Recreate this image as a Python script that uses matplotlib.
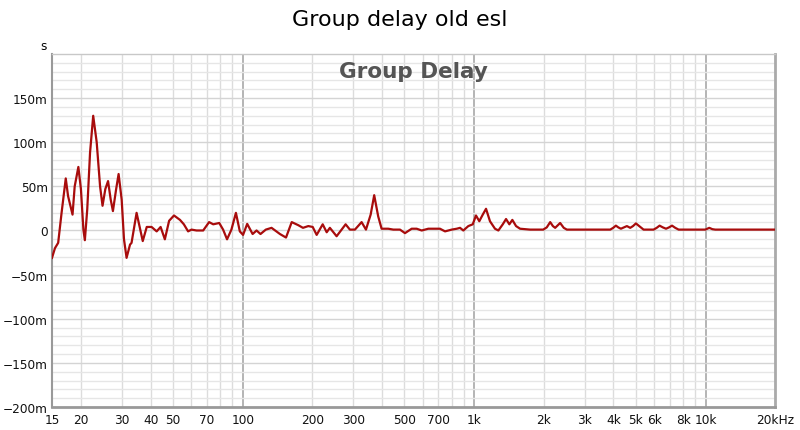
import numpy as np
import matplotlib.pyplot as plt
from matplotlib.ticker import FixedLocator, NullFormatter

# frequency (Hz) and group delay (ms)
freq = [15.0, 15.45, 15.95, 16.5, 17.2, 17.6, 18.4, 18.8, 19.5, 20.0, 20.5, 20.8,
        21.3, 21.9, 22.6, 23.4, 24.2, 24.8, 25.5, 26.2, 26.9, 27.5, 28.4, 29.1,
        30.0, 30.7, 31.5, 32.6, 33.1, 34.8, 37.0, 38.5, 40.4, 42.5, 44.2, 46.1,
        48.1, 50.5, 53.6, 55.7, 58.1, 60.1, 63.2, 67.5, 71.6, 74.6, 79.2, 82.3,
        85.6, 89.4, 93.5, 97.2, 100.4, 104.6, 110.4, 114.8, 119.4, 125.9, 133.3,
        144.9, 153.9, 162.9, 173.9, 182.2, 192.1, 200.7, 208.8, 221.7, 230.7,
        238.1, 254.6, 267.6, 278.5, 290.6, 305.5, 326.5, 341.0, 357.3, 370.1,
        385.1, 398.4, 425.7, 447.5, 478.3, 502.7, 537.3, 564.8, 593.6, 633.9,
        677.7, 712.3, 748.8, 800.4, 841.2, 869.4, 898.2, 944.2, 986.6, 1019,
        1053, 1090, 1126, 1171, 1231, 1273, 1330, 1374, 1420, 1463, 1518, 1580,
        1745, 1989, 2060, 2132, 2190, 2240, 2300, 2354, 2440, 2517, 3875, 3990,
        4099, 4200, 4308, 4440, 4573, 4726, 4860, 5002, 5200, 5399, 5963, 6150,
        6331, 6540, 6750, 6950, 7166, 7400, 7652, 9978, 10180, 10380, 10700,
        11020, 20000]
delay = [-31, -20, -14, 20, 59, 39, 18, 50, 72, 47, 1, -11,
         24, 88, 130, 100, 50, 28, 47, 56, 35, 22, 47, 64,
         35, -10, -31, -16, -14, 20, -12, 4, 4, -1, 4, -10,
         11, 17, 12, 7, -1, 1, 0, 0, 9.5, 7, 8.5, 1,
         -10, 1, 20, -1, -5, 7.5, -4, 0, -4, 1, 3,
         -4, -8, 9.5, 6, 3, 5, 4, -5, 7, -2,
         3, -6.5, 1, 7, 1, 1, 9.5, 1, 18, 40,
         16, 2, 2, 1, 1, -3, 2, 2, 0, 2,
         2, 2, -1, 1, 2, 3, 0, 5, 7, 17,
         10.5, 18, 24.6, 10.5, 2, 0, 7, 13, 7, 12, 5, 2,
         1, 1, 3.5, 9.5, 5, 3, 6, 8.5, 3, 1, 1, 3,
         5.5, 3.5, 2, 3.5, 5, 3, 5, 8, 4.5, 1, 1, 3,
         5.5, 3.5, 2, 3.5, 5.5, 3, 1, 1, 2, 3, 1.5,
         1, 1]

xticks = [15, 20, 30, 40, 50, 70, 100, 200, 300, 500, 700, 1000, 2000, 3000,
          4000, 5000, 6000, 8000, 10000, 20000]
xlabels = ['15', '20', '30', '40', '50', '70', '100', '200', '300', '500', '700',
           '1k', '2k', '3k', '4k', '5k', '6k', '8k', '10k', '20kHz']
yticks = [-200, -150, -100, -50, 0, 50, 100, 150]
ylabels = ['\u2212200m', '\u2212150m', '\u2212100m', '\u221250m', '0', '50m', '100m', '150m']

plt.rcParams['font.family'] = ['DejaVu Sans']

fig = plt.figure(figsize=(8, 4.31), dpi=100)
ax = fig.add_axes([0.065, 0.0534, 0.904, 0.819])

# grid
minor_x = [f * m for f in (10, 100, 1000, 10000) for m in range(2, 10)]
minor_x = [v for v in minor_x if 15 <= v <= 20000]
for v in minor_x:
    ax.axvline(v, color='#dcdcdc', lw=1, zorder=0)
for v in (100, 1000, 10000):
    ax.axvline(v, color='#a8a8a8', lw=1.2, zorder=0)
for v in range(-190, 200, 10):
    ax.axhline(v, color='#e6e6e6' if v % 50 else '#d4d4d4', lw=1, zorder=0)

ax.plot(freq, delay, color='#a80c0c', lw=1.6, zorder=3, solid_joinstyle='round')

ax.set_xscale('log')
ax.set_xlim(15, 20000)
ax.set_ylim(-200, 200)
ax.xaxis.set_major_locator(FixedLocator(xticks))
ax.xaxis.set_minor_locator(FixedLocator([]))
ax.set_xticklabels(xlabels)
ax.xaxis.set_minor_formatter(NullFormatter())
ax.set_yticks(yticks)
ax.set_yticklabels(ylabels)
ax.tick_params(length=0, labelsize=8.7, colors='#111111')
ax.tick_params(axis='x', pad=4)
ax.tick_params(axis='y', pad=3)

ax.spines['top'].set_color('#c8c8c8')
ax.spines['top'].set_linewidth(1)
ax.spines['left'].set_color('#999999')
ax.spines['left'].set_linewidth(1.5)
ax.spines['bottom'].set_color('#999999')
ax.spines['bottom'].set_linewidth(2)
ax.spines['right'].set_color('#aaaaaa')
ax.spines['right'].set_linewidth(2)

fig.text(0.5, 0.953, 'Group delay old esl', ha='center', va='center', fontsize=16)
ax.text(0.5, 0.952, 'Group Delay', transform=ax.transAxes, ha='center', va='center',
        fontsize=15.5, fontweight='bold', color='#555555')
fig.text(0.054, 0.891, 's', ha='center', va='center', fontsize=8.7)

fig.savefig('out.png', dpi=100)
